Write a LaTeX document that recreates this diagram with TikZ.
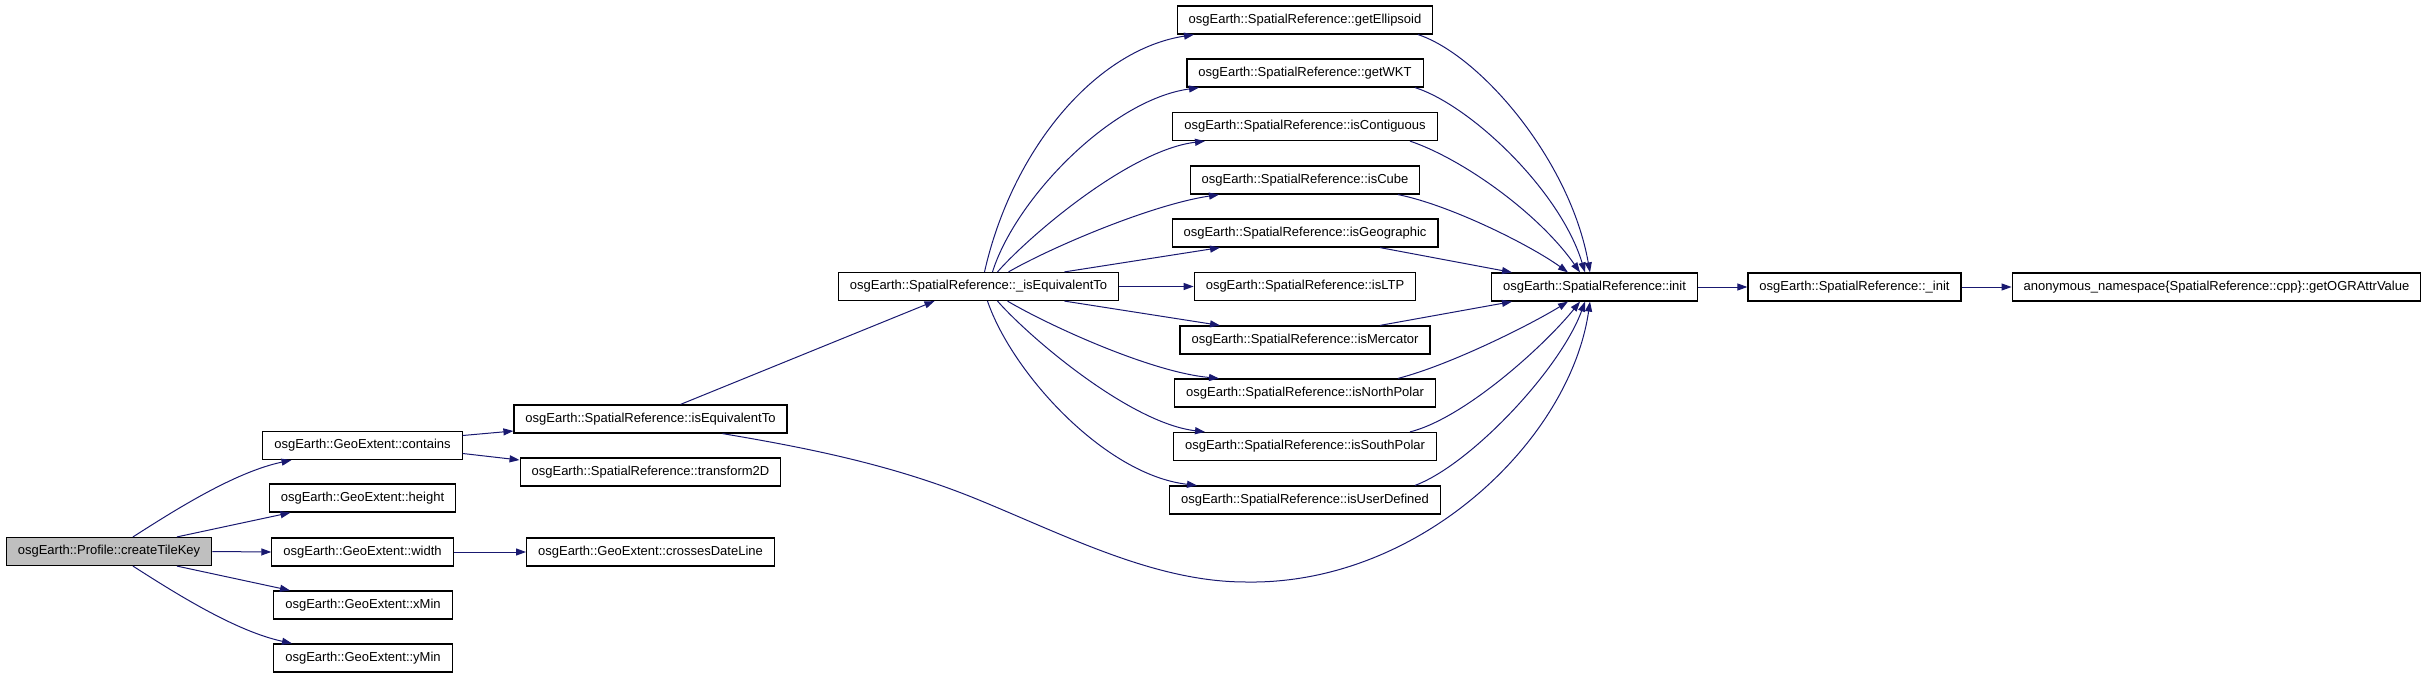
\documentclass[tikz,border=0pt]{standalone}
\usepackage{fontspec}
\setmainfont{Liberation Sans}
\usetikzlibrary{arrows.meta}
\definecolor{edgeblue}{RGB}{25,25,112}

\begin{document}
\begin{tikzpicture}[x=1pt,y=-1pt,
  fn/.style={draw=black,line width=1.2pt,fill=white,inner xsep=11.5pt,inner ysep=0pt,
    minimum height=28pt,font=\fontsize{13}{15}\selectfont},
  cur/.style={fn,fill=black!25},
  call/.style={draw=edgeblue,line width=1pt,-{Triangle[length=10pt,width=7pt]}}]
  \useasboundingbox (0,0) rectangle (2427,679);

  \node[cur] (ctk) at (109,551.5) {osgEarth::Profile::createTileKey};
  \node[fn] (cont) at (362.5,445.5) {osgEarth::GeoExtent::contains};
  \node[fn] (hgt) at (362.5,498) {osgEarth::GeoExtent::height};
  \node[fn] (wid) at (362.5,552) {osgEarth::GeoExtent::width};
  \node[fn] (xmn) at (363,605) {osgEarth::GeoExtent::xMin};
  \node[fn] (ymn) at (363,658) {osgEarth::GeoExtent::yMin};
  \node[fn] (ieq) at (650.5,419) {osgEarth::SpatialReference::isEquivalentTo};
  \node[fn] (t2d) at (650.5,472) {osgEarth::SpatialReference::transform2D};
  \node[fn] (cdl) at (650.5,552) {osgEarth::GeoExtent::crossesDateLine};
  \node[fn] (pieq) at (978.5,286.5) {osgEarth::SpatialReference::\_isEquivalentTo};

  % right column
  \node[fn] (gell) at (1305,20) {osgEarth::SpatialReference::getEllipsoid};
  \node[fn] (gwkt) at (1305,73) {osgEarth::SpatialReference::getWKT};
  \node[fn] (icont) at (1305,126.5) {osgEarth::SpatialReference::isContiguous};
  \node[fn] (icube) at (1305,180) {osgEarth::SpatialReference::isCube};
  \node[fn] (igeo) at (1305,233) {osgEarth::SpatialReference::isGeographic};
  \node[fn] (iltp) at (1305,286.5) {osgEarth::SpatialReference::isLTP};
  \node[fn] (imerc) at (1305,340) {osgEarth::SpatialReference::isMercator};
  \node[fn] (inp) at (1305,393) {osgEarth::SpatialReference::isNorthPolar};
  \node[fn] (isp) at (1305,446.5) {osgEarth::SpatialReference::isSouthPolar};
  \node[fn] (iud) at (1305,500) {osgEarth::SpatialReference::isUserDefined};

  \node[fn] (init) at (1594.5,287) {osgEarth::SpatialReference::init};
  \node[fn] (pinit) at (1854.5,287) {osgEarth::SpatialReference::\_init};
  \node[fn] (ogr) at (2216.5,287) {anonymous\_namespace\{SpatialReference::cpp\}::getOGRAttrValue};

  % calls from createTileKey
  \draw[call] ([xshift=24pt]ctk.north) .. controls (175,510) and (235,472) .. ([xshift=-71pt]cont.south);
  \draw[call] ([xshift=68pt]ctk.north) -- ([xshift=-72pt]hgt.south);
  \draw[call] (ctk.east) -- (wid.west);
  \draw[call] ([xshift=68pt]ctk.south) -- ([xshift=-73pt]xmn.north);
  \draw[call] ([xshift=24pt]ctk.south) .. controls (175,593) and (235,631) .. ([xshift=-71pt]ymn.north);

  \draw[call] ([yshift=10pt]cont.east) -- ([yshift=-12pt]ieq.west);
  \draw[call] ([yshift=-8pt]cont.east) -- ([yshift=12pt]t2d.west);
  \draw[call] (wid.east) -- (cdl.west);
  \draw[call] ([xshift=30pt]ieq.north) -- ([xshift=-44pt]pieq.south);
  \draw[call] ([xshift=72pt]ieq.south) .. controls (808,448) and (894,465) .. (979,500)
    .. controls (1069,537) and (1156,582) .. (1246,582)
    .. controls (1420,585) and (1570,440) .. ([xshift=-4.5pt]init.south);

  % fan out of _isEquivalentTo
  \draw[call] ([xshift=6pt]pieq.north) .. controls (1012,150) and (1095,50) .. ([xshift=-111pt]gell.south);
  \draw[call] ([xshift=14pt]pieq.north) .. controls (1015,200) and (1110,100) .. ([xshift=-106pt]gwkt.south);
  \draw[call] ([xshift=19pt]pieq.north) .. controls (1030,235) and (1130,150) .. ([xshift=-100pt]icont.south);
  \draw[call] ([xshift=30pt]pieq.north) .. controls (1050,248) and (1150,205) .. ([xshift=-86pt]icube.south);
  \draw[call] ([xshift=86pt]pieq.north) -- ([xshift=-85pt]igeo.south);
  \draw[call] (pieq.east) -- (iltp.west);
  \draw[call] ([xshift=86pt]pieq.south) -- ([xshift=-85pt]imerc.north);
  \draw[call] ([xshift=29pt]pieq.south) .. controls (1048,325) and (1150,372) .. ([xshift=-86pt]inp.north);
  \draw[call] ([xshift=19pt]pieq.south) .. controls (1030,338) and (1130,423) .. ([xshift=-100pt]isp.north);
  \draw[call] ([xshift=9pt]pieq.south) .. controls (1012,373) and (1105,475) .. ([xshift=-108pt]iud.north);

  % fan into init
  \draw[call] ([xshift=113pt]gell.south) .. controls (1480,55) and (1570,160) .. ([xshift=-4.5pt]init.north);
  \draw[call] ([xshift=110pt]gwkt.south) .. controls (1470,105) and (1560,190) .. ([xshift=-9.5pt]init.north);
  \draw[call] ([xshift=105pt]icont.south) .. controls (1465,160) and (1540,215) .. ([xshift=-14.5pt]init.north);
  \draw[call] ([xshift=93pt]icube.south) .. controls (1450,205) and (1530,245) .. ([xshift=-26.5pt]init.north);
  \draw[call] ([xshift=75pt]igeo.south) -- ([xshift=-82.5pt]init.north);
  \draw[call] ([xshift=75pt]imerc.north) -- ([xshift=-82.5pt]init.south);
  \draw[call] ([xshift=93pt]inp.north) .. controls (1450,365) and (1530,325) .. ([xshift=-26.5pt]init.south);
  \draw[call] ([xshift=105pt]isp.north) .. controls (1465,418) and (1545,345) .. ([xshift=-14.5pt]init.south);
  \draw[call] ([xshift=110pt]iud.north) .. controls (1470,465) and (1560,370) .. ([xshift=-9.5pt]init.south);

  \draw[call] (init.east) -- (pinit.west);
  \draw[call] (pinit.east) -- (ogr.west);
\end{tikzpicture}
\end{document}
